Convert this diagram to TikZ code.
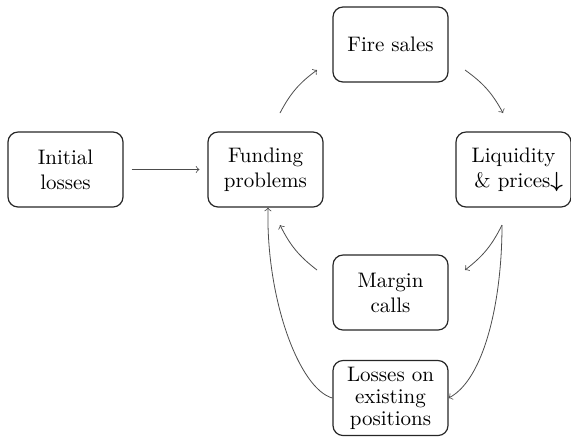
\documentclass[tikz,border=0pt]{standalone}
\usepackage{amsmath,amssymb,bm}
\begin{document}
\begin{tikzpicture}[x=0.5pt,y=0.5pt,
  box/.style={draw=black!85,line width=0.6pt,rounded corners=5pt,
    minimum width=57.5pt,minimum height=37.5pt,inner sep=1pt,
    align=center,font=\fontsize{10.5}{12.5}\selectfont},
  conn/.style={draw=black!70,line width=0.4pt,->}]
\useasboundingbox (0,0) rectangle (571,-436);
\node[box] (init) at (65.5,-169.5) {Initial\\losses};
\node[box] (fund) at (265.5,-169.5) {Funding\\problems};
\node[box] (fire) at (390.5,-44.5) {Fire sales};
\node[box] (liq) at (513.5,-169.5) {Liquidity\\\ \,\& prices$\bm{\downarrow}$};
\node[box] (marg) at (390.5,-292.5) {Margin\\calls};
\node[box,font=\fontsize{10.5}{11}\selectfont] (loss) at (390.5,-398) {Losses on\\existing\\positions};
% arc end points
\coordinate (a1) at (280,-113);
\coordinate (a2) at (317,-70);
\coordinate (b1) at (465,-70);
\coordinate (b2) at (503,-113);
\coordinate (c1) at (502,-225);
\coordinate (c2) at (465,-270);
\coordinate (d1) at (317,-270);
\coordinate (d2) at (280,-225);
\draw[conn,shorten <=4pt,shorten >=4pt] (init) -- (fund);
\draw[conn] (a1) to[bend left=13] (a2);
\draw[conn] (b1) to[bend left=13] (b2);
\draw[conn] (c1) to[bend left=13] (c2);
\draw[conn] (d1) to[bend left=13] (d2);
\draw[conn] (loss.west) .. controls +(-33,9) and +(-2,-92) .. ([xshift=1.25pt]fund.south);
\draw[conn] (c1) .. controls +(0,-75) and +(36,19) .. (loss.east);
\end{tikzpicture}
\end{document}
